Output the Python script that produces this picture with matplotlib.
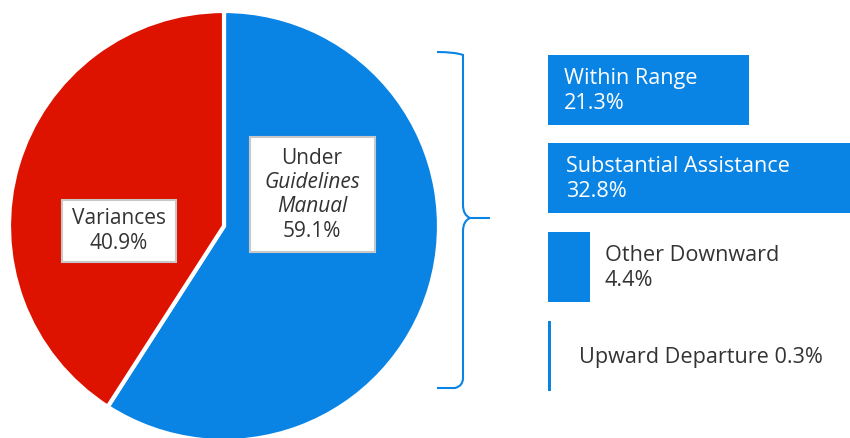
import matplotlib
matplotlib.use('Agg')
import matplotlib.pyplot as plt
from matplotlib.patches import Rectangle, PathPatch
from matplotlib.path import Path

# ---- data ----
pie_labels = ["Under\nGuidelines\nManual", "Variances"]
pie_values = [59.1, 40.9]
bar_labels = ["Within Range", "Substantial Assistance", "Other Downward", "Upward Departure"]
bar_values = [21.3, 32.8, 4.4, 0.3]

BLUE = "#0A84E4"
RED = "#DD1300"
DARK = "#333333"
FONT = "Open Sans"
FS = 15.6

W, H = 850, 438
fig = plt.figure(figsize=(W / 100, H / 100), dpi=100)
ax = fig.add_axes([0, 0, 1, 1])

# pie (pixel-like data coords, y upward)
cx, cy, r = 224, H - 226, 215
ax.pie(pie_values, colors=[BLUE, RED], startangle=90, counterclock=False,
       center=(cx, cy), radius=r, frame=True,
       wedgeprops=dict(edgecolor="white", linewidth=3))
ax.set_xlim(0, W)
ax.set_ylim(0, H)
ax.set_aspect("equal")
ax.axis("off")

# label boxes in pie
def box(x0, y0, x1, y1):
    ax.add_patch(Rectangle((x0, H - y1), x1 - x0, y1 - y0, facecolor="white",
                           edgecolor="#c8c8c8", linewidth=1.5, zorder=5))

box(250, 137, 375, 252)
under_lines = ["Under", "Guidelines", "Manual", f"{pie_values[0]}%"]
styles = ["normal", "italic", "italic", "normal"]
for i, (t, s) in enumerate(zip(under_lines, styles)):
    ax.text(312, H - (158 + i * 24.5), t, ha="center", va="center", fontsize=FS - 0.6,
            style=s, color=DARK, family=FONT, zorder=6)

box(62, 200, 176, 262)
ax.text(119, H - 231, f"{pie_labels[1]}\n{pie_values[1]}%", ha="center", va="center",
        fontsize=FS - 0.6, color=DARK, family=FONT, linespacing=1.2, zorder=6)

# brace
verts = [(437, 52), (455, 52), (463, 55), (463, 65),
         (463, 205), (463, 215), (470, 218), (490, 218),
         (470, 218), (463, 221), (463, 231),
         (463, 378), (463, 386), (455, 388), (437, 388)]
codes = [Path.MOVETO, Path.CURVE3, Path.CURVE3, Path.LINETO,
         Path.LINETO, Path.CURVE3, Path.CURVE3, Path.LINETO,
         Path.MOVETO, Path.CURVE3, Path.CURVE3,
         Path.LINETO, Path.CURVE3, Path.CURVE3, Path.LINETO]
verts = [(x, H - y) for x, y in verts]
ax.add_patch(PathPatch(Path(verts, codes), facecolor="none", edgecolor=BLUE, linewidth=1.5))

# bars
scale = 9.44
bar_left = 548
bar_centers = [90, 178, 267, 356]
ax.barh([H - c for c in bar_centers], [v * scale for v in bar_values], left=bar_left,
        height=70, color=BLUE)

ax.text(564, H - 91, f"{bar_labels[0]}\n{bar_values[0]}%", ha="left", va="center",
        fontsize=FS, color="white", family=FONT, linespacing=1.22)
ax.text(566, H - 179, f"{bar_labels[1]}\n{bar_values[1]}%", ha="left", va="center",
        fontsize=FS, color="white", family=FONT, linespacing=1.22)
ax.text(605, H - 268, f"{bar_labels[2]}\n{bar_values[2]}%", ha="left", va="center",
        fontsize=FS, color=DARK, family=FONT, linespacing=1.22)
ax.text(579, H - 357, f"{bar_labels[3]} {bar_values[3]}%", ha="left", va="center",
        fontsize=FS, color=DARK, family=FONT)

fig.savefig("out.png", dpi=100)
